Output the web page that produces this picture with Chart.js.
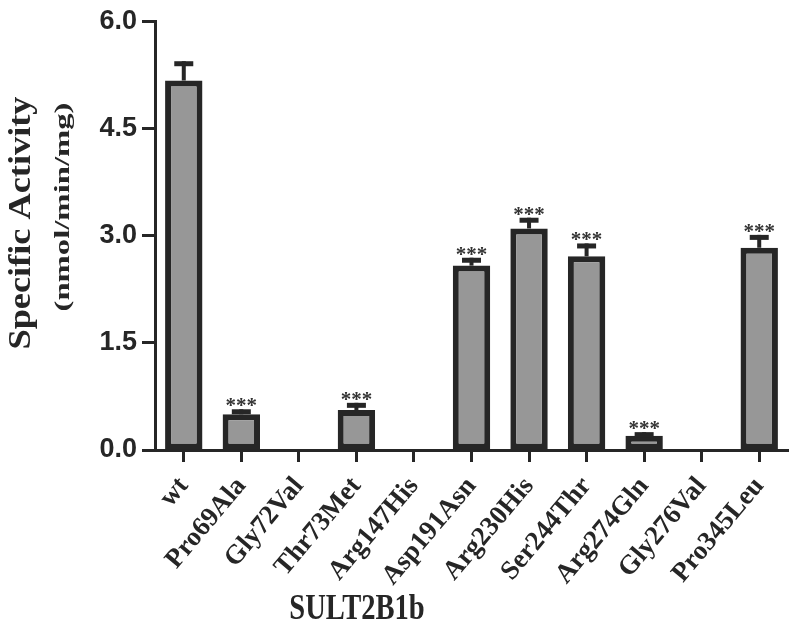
<!DOCTYPE html>
<html>
<head>
<meta charset="utf-8">
<script src="https://cdn.jsdelivr.net/npm/chart.js@4/dist/chart.umd.min.js"></script>
<style>
  html, body { margin: 0; padding: 0; background: #fff; }
  #wrap { width: 800px; height: 628px; position: relative; }
</style>
</head>
<body>
<div id="wrap"><canvas id="chart"></canvas></div>
<script>
const categories = ['wt', 'Pro69Ala', 'Gly72Val', 'Thr73Met', 'Arg147His', 'Asp191Asn',
    'Arg230His', 'Ser244Thr', 'Arg274Gln', 'Gly276Val', 'Pro345Leu'];
const activity = [5.17, 0.50, 0, 0.56, 0, 2.58, 3.10, 2.71, 0.20, 0, 2.83];
const sem = [0.27, 0.07, 0, 0.10, 0, 0.11, 0.15, 0.18, 0.05, 0, 0.18];
const signif = ['', '***', '', '***', '', '***', '***', '***', '***', '', '***'];
const yTicks = [0, 1.5, 3.0, 4.5, 6.0];

const ink = '#262626';

// draw text with a stretch, the original figure is a bit squashed
function drawText(ctx, text, x, y, font, rot, sx, sy) {
    ctx.save();
    ctx.translate(x, y);
    ctx.rotate(rot);
    ctx.scale(sx, sy);
    ctx.font = font;
    ctx.fillStyle = ink;
    ctx.textAlign = 'center';
    ctx.textBaseline = 'middle';
    ctx.fillText(text, 0, 0);
    ctx.restore();
}

const extras = {
    id: 'extras',
    afterDatasetsDraw(chart) {
        const ctx = chart.ctx;
        const y = chart.scales.y;
        const meta = chart.getDatasetMeta(0);
        ctx.save();
        meta.data.forEach((bar, i) => {
            if (!activity[i]) return;
            const cx = bar.x;
            const top = y.getPixelForValue(activity[i]);
            const capY = y.getPixelForValue(activity[i] + sem[i]);
            ctx.fillStyle = ink;
            ctx.fillRect(cx - 2, capY, 4, top - capY);
            ctx.fillRect(cx - 9.5, capY, 19, 5);
            if (signif[i]) {
                ctx.fillStyle = '#333';
                ctx.font = 'bold 21px "Liberation Serif"';
                ctx.textAlign = 'center';
                ctx.textBaseline = 'alphabetic';
                ctx.fillText(signif[i], cx, capY + 3);
            }
        });
        ctx.restore();

        // axis titles
        const c = chart.ctx;
        c.save();
        c.font = 'bold 31px "Liberation Serif"';
        let w = c.measureText('Specific Activity').width;
        drawText(c, 'Specific Activity', 22, 223, 'bold 31px "Liberation Serif"', -Math.PI / 2, 253 / w, 1);
        c.font = 'bold 22px "Liberation Serif"';
        w = c.measureText('(nmol/min/mg)').width;
        drawText(c, '(nmol/min/mg)', 63, 207, 'bold 22px "Liberation Serif"', -Math.PI / 2, 209 / w, 1);
        drawText(c, 'SULT2B1b', 357, 610, 'bold 28px "Liberation Serif"', 0, 1.02, 1.3);
        c.restore();
    }
};

new Chart(document.getElementById('chart'), {
    type: 'bar',
    data: {
        labels: categories,
        datasets: [{
            data: activity,
            backgroundColor: '#979797',
            borderColor: ink,
            borderWidth: 6,
            borderSkipped: false,
            barPercentage: 0.65,
            categoryPercentage: 1
        }]
    },
    options: {
        responsive: true,
        maintainAspectRatio: false,
        animation: false,
        layout: { padding: { top: 20, right: 12, left: 0, bottom: 0 } },
        plugins: { legend: { display: false }, tooltip: { enabled: false } },
        scales: {
            x: {
                offset: true,
                grid: { offset: false, drawOnChartArea: false, tickLength: 12, tickWidth: 3, tickColor: ink },
                border: { color: ink, width: 3 },
                ticks: {
                    color: ink,
                    font: { family: 'Liberation Serif', weight: 'bold', size: 27 },
                    minRotation: 50,
                    maxRotation: 50,
                    padding: 9
                },
                afterFit(scale) { scale.height = 178; }
            },
            y: {
                min: 0,
                max: 6,
                afterBuildTicks(scale) { scale.ticks = yTicks.map(v => ({ value: v })); },
                grid: { drawOnChartArea: false, tickLength: 13, tickWidth: 3, tickColor: ink },
                border: { color: ink, width: 3 },
                ticks: {
                    color: ink,
                    font: { family: 'Liberation Sans', weight: 'bold', size: 27 },
                    padding: 5,
                    callback: v => v.toFixed(1)
                },
                afterFit(scale) { scale.width = 155; }
            }
        }
    },
    plugins: [extras]
});
</script>
</body>
</html>
